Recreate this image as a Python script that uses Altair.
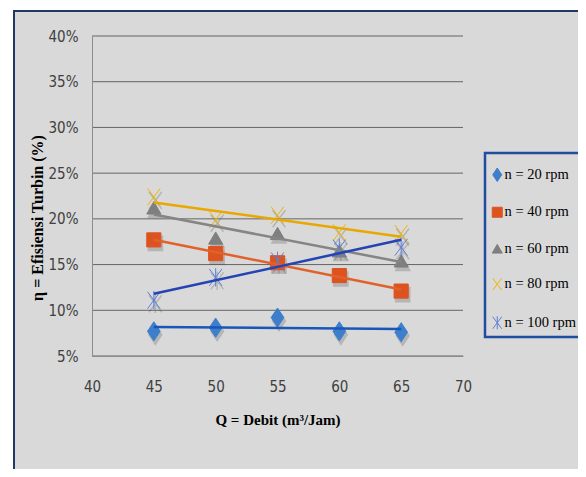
import altair as alt
import pandas as pd

# ---- data ----
q_values = [45, 50, 55, 60, 65]
series_names = ["n = 20 rpm", "n = 40 rpm", "n = 60 rpm", "n = 80 rpm", "n = 100 rpm"]
eff_20 = [0.077, 0.081, 0.092, 0.077, 0.076]
eff_40 = [0.177, 0.162, 0.152, 0.138, 0.121]
eff_60 = [0.212, 0.179, 0.184, 0.165, 0.154]
eff_80 = [0.224, 0.199, 0.204, 0.185, 0.184]
eff_100 = [0.111, 0.136, 0.154, 0.168, 0.169]
x_ticks = [40, 45, 50, 55, 60, 65, 70]
y_ticks = [0.05, 0.10, 0.15, 0.20, 0.25, 0.30, 0.35, 0.40]

marker_colors = ["#3d7fcc", "#dd5320", "#7f7f7f", "#f0b400", "#5a7fd8"]
line_colors = ["#1a56b8", "#e0622a", "#858585", "#e8a800", "#2443b4"]
marker_shapes = [
    "M0,-1.35L0.9,0L0,1.35L-0.9,0Z",
    "square",
    "triangle-up",
    "M-0.9,-1.2L0.9,1.2M-0.9,1.2L0.9,-1.2",
    "M-0.9,-1.2L0.9,1.2M-0.9,1.2L0.9,-1.2M0,-1.3L0,1.3",
]

rows = []
for name, vals in zip(series_names, [eff_20, eff_40, eff_60, eff_80, eff_100]):
    for qv, v in zip(q_values, vals):
        rows.append({"series": name, "Q": qv, "eff": v})
df = pd.DataFrame(rows)

x_scale = alt.Scale(domain=[40, 70], nice=False, zero=False)
y_scale = alt.Scale(domain=[0.05, 0.40], nice=False, zero=False)

label_font = "Liberation Sans Narrow, DejaVu Sans Condensed, Liberation Sans, sans-serif"
serif = "Liberation Serif, Times New Roman, serif"

x_axis = alt.Axis(
    values=x_ticks, grid=False, ticks=False, domainColor="#8c8c8c", domainWidth=1,
    labelFont=label_font, labelFontSize=15, labelColor="#404040", labelPadding=23,
    labelFlush=False, labelOverlap=False,
    title="Q = Debit (m³/Jam)", titleFont=serif, titleFontWeight="bold",
    titleFontSize=15, titleColor="black", titleY=68, titleBaseline="alphabetic",
    zindex=1,
)
y_axis = alt.Axis(
    values=y_ticks, format=".0%", grid=False, ticks=False, domainColor="#8c8c8c",
    domainWidth=1, labelFont=label_font, labelFontSize=15, labelColor="#404040",
    labelPadding=14, labelFlush=False, labelOverlap=False,
    title="η = Efisiensi Turbin (%)", titleFont=serif, titleFontWeight="bold",
    titleFontSize=16, titleColor="black", titleAngle=270, titleX=-50, titleY=181.5,
    titleBaseline="alphabetic", titleAlign="center",
    zindex=1,
)

legend = alt.Legend(
    title=" ", orient="none", legendX=393, legendY=117, padding=5, rowPadding=20.5,
    fillColor="#d9d9d9", strokeColor="#1f4ea0",
    symbolSize=100, symbolStrokeWidth=1, labelFont=serif, labelFontSize=14.5,
    labelColor="black", labelOffset=0, titleFontSize=2, titlePadding=7.5,
)

shape_scale = alt.Scale(domain=series_names, range=marker_shapes)
fill_scale = alt.Scale(domain=series_names, range=marker_colors)

X = alt.X("Q:Q", scale=x_scale, axis=x_axis)
Y = alt.Y("eff:Q", scale=y_scale, axis=y_axis)

bg = alt.Chart(pd.DataFrame({"k": [0]})).mark_rect(
    fill="#d9d9d9", stroke="#203864", strokeWidth=2
).encode(x=alt.value(-78), x2=alt.value(700), y=alt.value(-25), y2=alt.value(700))

grid = alt.Chart(pd.DataFrame({"eff": y_ticks})).mark_rule(
    color="#656565", strokeWidth=1
).encode(x=alt.value(0), x2=alt.value(371), y=Y)

base = alt.Chart(df)

shadows = [
    base.transform_filter(alt.datum.series == name).mark_point(
        filled=True, size=200, shape=shp, fill="#3a3a3a", stroke="#3a3a3a",
        strokeWidth=1.5, opacity=0.22, xOffset=1.5, yOffset=3.5,
    ).encode(x=X, y=Y)
    for name, shp in zip(series_names, marker_shapes)
]

points = base.mark_point(filled=True, size=200, strokeWidth=1, opacity=1).encode(
    x=X, y=Y,
    shape=alt.Shape("series:N", scale=shape_scale, legend=legend),
    fill=alt.Fill("series:N", scale=fill_scale, legend=legend),
    stroke=alt.Stroke("series:N", scale=fill_scale, legend=legend),
)

lines = base.transform_regression(
    "Q", "eff", groupby=["series"], extent=[45, 65]
).mark_line(strokeWidth=2.5).encode(
    x=X, y=Y,
    color=alt.Color("series:N", scale=alt.Scale(domain=series_names, range=line_colors), legend=None),
)

chart = alt.layer(bg, grid, *shadows, points, lines).properties(
    width=371, height=320,
    padding={"left": 84, "top": 28, "right": 115, "bottom": 113},
    autosize=alt.AutoSizeParams(type="none"),
    background="white",
).configure_view(stroke=None).configure_legend(strokeWidth=2.5)

chart.save("out.html", embed_options={"renderer": "svg", "actions": False})
